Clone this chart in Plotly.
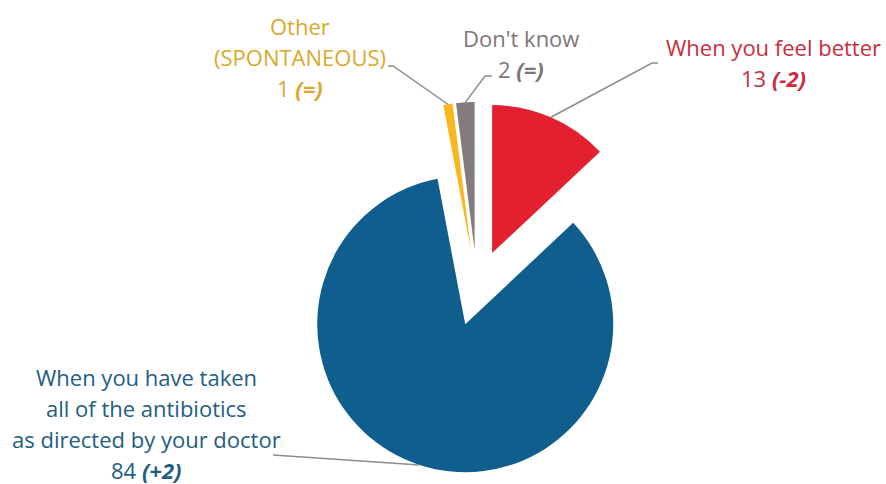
import math
import plotly.graph_objects as go

# ---- data ----
labels = ["When you feel better",
          "When you have taken all of the antibiotics as directed by your doctor",
          "Other (SPONTANEOUS)",
          "Don't know"]
values = [13, 84, 1, 2]
changes = ["-2", "+2", "=", "="]
label_lines = [["When you feel better"],
               ["When you have taken", "all of the antibiotics", "as directed by your doctor"],
               ["Other", "(SPONTANEOUS)"],
               ["Don't know"]]

# ---- style / layout ----
slice_colors = ["#E3202F", "#0F5E8E", "#F7B71D", "#857A7D"]
text_colors = ["#C92D3E", "#235E82", "#D8A92C", "#7E7578"]
W, H = 886, 484
CX, CY, R, PULL = 477, 288, 148, 0.257
FONT = "Open Sans"
FS = 22
LINE_GAP = 31
label_cx = [773, 146, 300, 521]
label_top = [47, 377, 26, 38]
# leader line: (elbow, end) in pixels; elbow None -> straight line
leader_elbow = [(652, 63), None, (393, 66), (485, 76)]
leader_end = [(658, 63), (273, 455), (388, 66), (492, 76)]

half = R * (1 + PULL)
dom_x = [(CX - half) / W, (CX + half) / W]
dom_y = [1 - (CY + half) / H, 1 - (CY - half) / H]

fig = go.Figure(go.Pie(
    labels=labels, values=values, sort=False, direction="clockwise", rotation=0,
    pull=[PULL] * len(values), textinfo="none", hoverinfo="label+value",
    marker=dict(colors=slice_colors, line=dict(width=0)),
    domain=dict(x=dom_x, y=dom_y), showlegend=False,
))

def px2paper(p):
    return p[0] / W, 1 - p[1] / H

total = sum(values)
cum = 0
shapes = []
annotations = []
for i, v in enumerate(values):
    theta = 2 * math.pi * (cum + v / 2) / total
    cum += v
    start = (CX + half * math.sin(theta), CY - half * math.cos(theta))
    pts = [start]
    if leader_elbow[i] is not None:
        pts.append(leader_elbow[i])
    pts.append(leader_end[i])
    pp = [px2paper(p) for p in pts]
    path = "M " + " L ".join(f"{x:.5f},{y:.5f}" for x, y in pp)
    shapes.append(dict(type="path", path=path, xref="paper", yref="paper",
                       line=dict(color="#8C8C8C", width=1.5)))
    lines = label_lines[i] + [f"{v} <b><i>({changes[i]})</i></b>"]
    for j, t in enumerate(lines):
        x, y = px2paper((label_cx[i], label_top[i] + j * LINE_GAP))
        annotations.append(dict(text=t, x=x, y=y, xref="paper", yref="paper",
                                xanchor="center", yanchor="middle", showarrow=False,
                                font=dict(family=FONT, size=FS, color=text_colors[i])))

fig.update_layout(width=W, height=H, margin=dict(l=0, r=0, t=0, b=0),
                  paper_bgcolor="white", plot_bgcolor="white",
                  shapes=shapes, annotations=annotations)

fig.write_html("out.html", config={"displayModeBar": False},
               post_script="document.body.style.margin='0';")
